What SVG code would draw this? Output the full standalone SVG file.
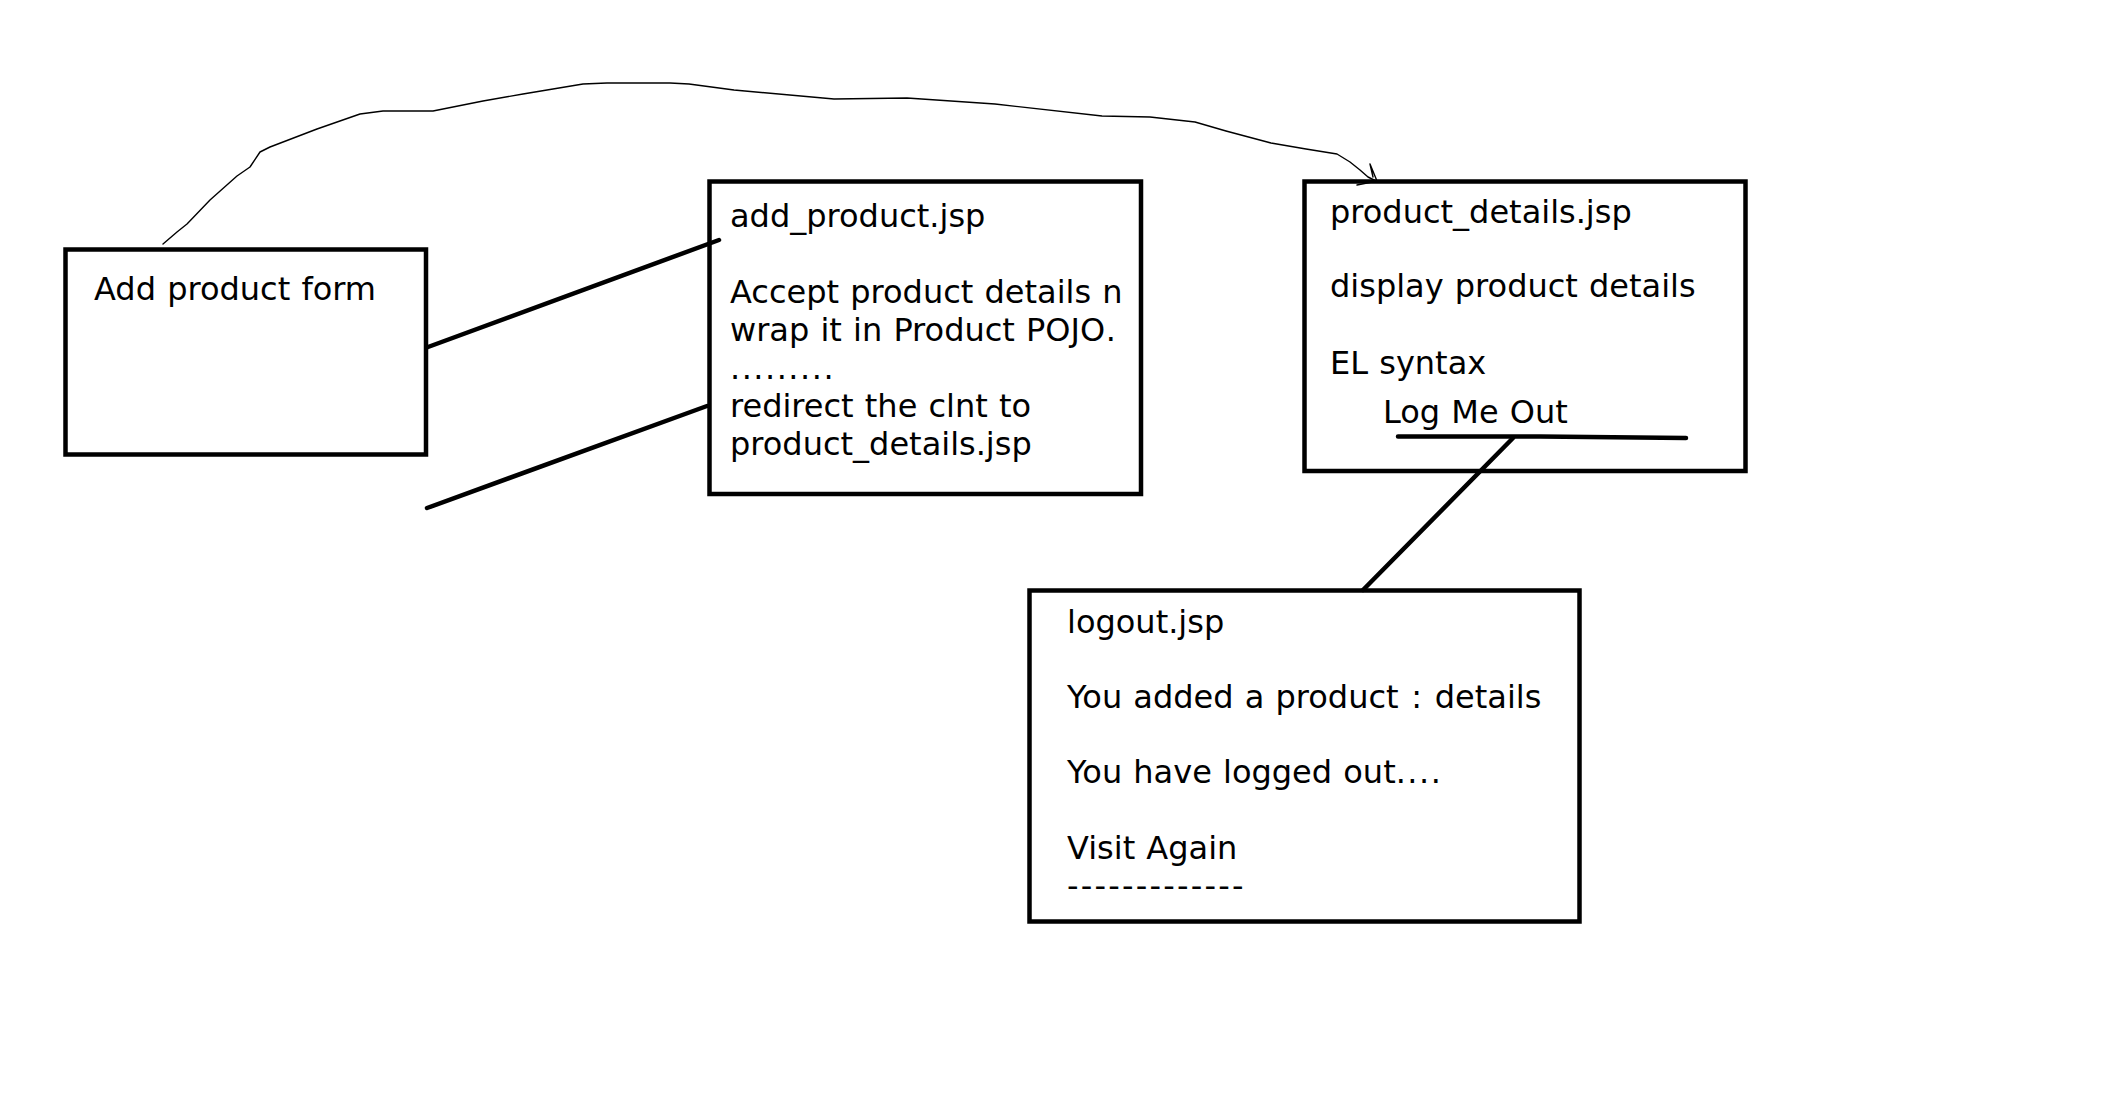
<svg xmlns="http://www.w3.org/2000/svg" width="2112" height="1096" viewBox="0 0 2112 1096">
  <style>
    .box { fill: #ffffff; stroke: #000000; stroke-width: 4.5; }
    .t { font-family: "DejaVu Sans", Verdana, sans-serif; font-size: 32px; fill: #000000; word-spacing: 1px; }
    .dots { letter-spacing: 1.5px; }
    .dash { letter-spacing: 2.2px; }
    .conn { fill: none; stroke: #000000; stroke-width: 4.5; stroke-linecap: round; }
    .thin { fill: none; stroke: #000000; stroke-width: 1.4; stroke-linejoin: round; stroke-linecap: round; }
  </style>
  <rect width="2112" height="1096" fill="#ffffff"/>

  <g id="node-add-form">
    <rect class="box" x="65.5" y="249.5" width="360.5" height="205"/>
    <text class="t" x="94" y="300">Add product form</text>
  </g>

  <g id="node-add-product">
    <rect class="box" x="709.5" y="181.5" width="431.5" height="312.5"/>
    <text class="t" x="730" y="227">add_product.jsp</text>
    <text class="t" x="730" y="303">Accept product details n</text>
    <text class="t" x="730" y="341">wrap it in Product POJ<tspan letter-spacing="2">O.</tspan></text>
    <text class="t dots" x="730" y="379">.........</text>
    <text class="t" x="730" y="417">redirect the clnt to</text>
    <text class="t" x="730" y="455">product_details.jsp</text>
  </g>

  <g id="node-product-details">
    <rect class="box" x="1304.5" y="181.5" width="441" height="289.5"/>
    <text class="t" x="1330" y="223">product_details.jsp</text>
    <text class="t" x="1330" y="297">display product details</text>
    <text class="t" x="1330" y="374">EL syntax</text>
    <text class="t" x="1383" y="423">Log Me Out</text>
  </g>

  <g id="node-logout">
    <rect class="box" x="1029.5" y="590.5" width="550" height="331"/>
    <text class="t" x="1067" y="633">logout.jsp</text>
    <text class="t" x="1067" y="708">You added a product <tspan dx="1.5">:</tspan><tspan dx="1.5"> details</tspan></text>
    <text class="t" x="1067" y="783">You have logged out<tspan class="dots">....</tspan></text>
    <text class="t" x="1067" y="859">Visit Again</text>
    <text class="t dash" x="1067" y="897">-------------</text>
  </g>

  <g id="connectors">
    <path class="conn" d="M428,347 L719,240"/>
    <path class="conn" d="M427,508 L707,406"/>
    <path class="conn" d="M1398,436.5 L1540,436.5 L1686,438"/>
    <path class="conn" d="M1513,438 L1363,590"/>
    <path class="thin" d="M163,244 L177,232 L187,224 L210,200 L237,176 L250,167 L260,152 L270,147 L317,129 L360,114 L383,111 L433,111 L483,101 L523,94 L583,84 L607,83 L670,83 L689,84 L734,90 L834,99 L907,98 L995,104 L1102,116 L1150,117 L1195,122 L1226,131 L1271,143 L1306,149 L1337,154 L1350,162 L1360,170 L1368,177 L1376,181"/>
    <path class="thin" d="M1370,164 L1373,177 M1370,164 L1377,181 L1357,185"/>
  </g>
</svg>
